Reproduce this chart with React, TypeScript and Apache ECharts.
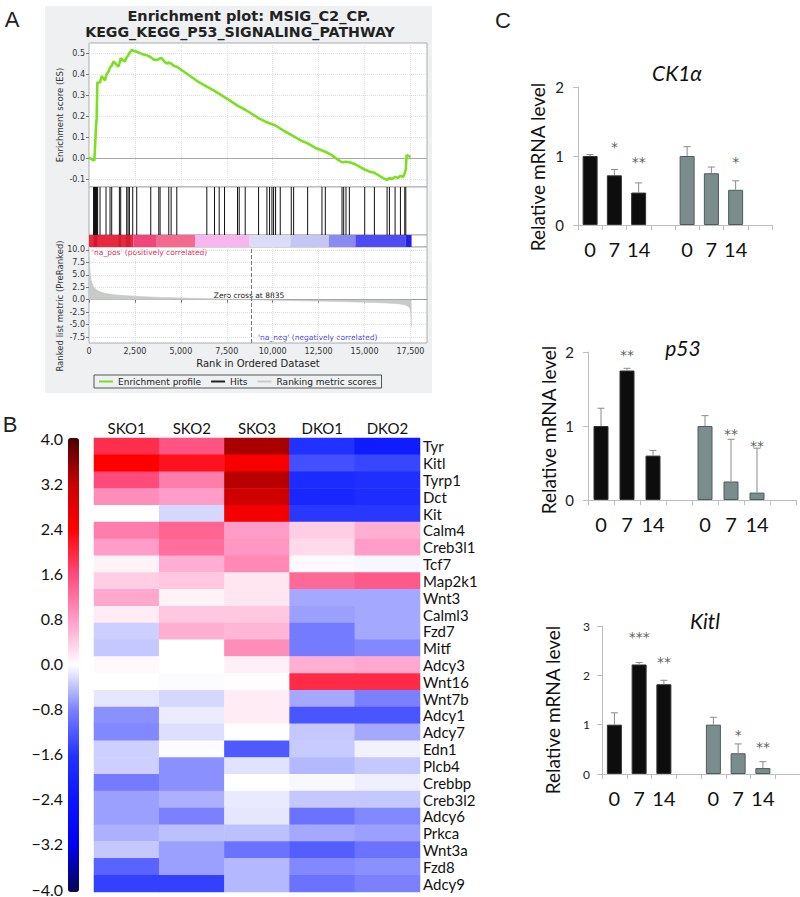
import { useEffect, useRef } from 'react';
import * as echarts from 'echarts';

// ---------- Panel A : GSEA enrichment plot ----------
const esCurve: [number, number][] = [
  [0, 0], [150, -0.005], [290, -0.013], [327, 0.05], [382, 0.15], [418, 0.19], [454, 0.36],
  [600, 0.36], [690, 0.39], [780, 0.38], [870, 0.37], [960, 0.4], [1050, 0.41], [1145, 0.43],
  [1236, 0.44], [1330, 0.46], [1450, 0.45], [1600, 0.435], [1654, 0.45], [1726, 0.475],
  [1850, 0.465], [1960, 0.46], [2053, 0.48], [2140, 0.49], [2199, 0.5], [2325, 0.515],
  [2450, 0.51], [2600, 0.506], [2900, 0.495], [3140, 0.49], [3362, 0.48], [3500, 0.47],
  [3690, 0.467], [3870, 0.475], [3960, 0.475], [4100, 0.46], [4230, 0.45], [4343, 0.455],
  [4470, 0.45], [4600, 0.44], [4780, 0.435], [5200, 0.41], [5600, 0.385], [6000, 0.36],
  [6414, 0.34], [6832, 0.32], [7378, 0.29], [8086, 0.25], [8504, 0.23], [9231, 0.19],
  [9685, 0.17], [10157, 0.155], [10600, 0.13], [11011, 0.11], [11500, 0.085], [11902, 0.07],
  [12400, 0.045], [12865, 0.03], [13200, 0.015], [13500, -0.005], [13774, -0.02],
  [13991, -0.018], [14173, -0.02], [14500, -0.03], [15009, -0.055], [15300, -0.065],
  [15536, -0.07], [15900, -0.09], [16226, -0.105], [16354, -0.095], [16500, -0.1],
  [16663, -0.09], [16800, -0.095], [16954, -0.085], [17100, -0.09], [17190, -0.07],
  [17245, -0.055], [17290, 0.014], [17400, 0.01], [17500, 0.005],
];

const hitRanks = [
  250, 273, 300, 327, 354, 382, 410, 436, 470, 600, 927, 1145, 1236, 1654, 1726, 2053, 2126,
  2199, 2380, 2598, 3362, 3798, 3870, 4343, 4470, 4779, 6414, 6832, 7087, 7378, 8086, 8177,
  8504, 9231, 9685, 9830, 9958, 10048, 10157, 10412, 11011, 11139, 11902, 12683, 12865, 13774,
  13864, 13991, 14173, 15009, 15536, 16226, 16354, 16663, 16954, 17190, 17245,
];

const metricCurve: [number, number][] = [
  [0, 8.5], [30, 7.5], [60, 5.5], [100, 4.2], [150, 3.4], [250, 2.6], [400, 2.0], [600, 1.6],
  [900, 1.25], [1300, 1.0], [2000, 0.8], [3000, 0.6], [4000, 0.45], [5000, 0.35], [6000, 0.25],
  [7000, 0.17], [8000, 0.08], [8835, 0], [9500, -0.05], [10500, -0.12], [11500, -0.2],
  [12500, -0.28], [13500, -0.36], [14500, -0.45], [15500, -0.55], [16200, -0.65],
  [16800, -0.8], [17100, -0.95], [17300, -1.15], [17450, -1.6], [17500, -2.2], [17530, -3.2],
  [17550, -4.5], [17560, -5.5],
];

const stripStarts = [0, 250, 1600, 2000, 2417, 3690, 5780, 8740, 10960, 13050, 14500, 17225];
const stripEnds = [2417, 450, 1750, 2250, 3690, 5780, 8740, 10960, 13050, 14500, 17225, 17560];
const stripColors = [
  '#e8283e', '#cc1a34', '#d41c36', '#d41c36', '#f0467c', '#f46a8e', '#f8b6ee', '#dcdcf8',
  '#c6c6f4', '#8a8af2', '#4c4cf2', '#2222e6',
];

const rankTicks = [0, 2500, 5000, 7500, 10000, 12500, 15000, 17500];
const esTicks = [-0.1, 0, 0.1, 0.2, 0.3, 0.4, 0.5];
const metricTicks = [-7.5, -5, -2.5, 0, 2.5, 5, 7.5, 10];

// ---------- Panel B : heatmap ----------
const samples = ['SKO1', 'SKO2', 'SKO3', 'DKO1', 'DKO2'];
const genes = [
  'Tyr', 'Kitl', 'Tyrp1', 'Dct', 'Kit', 'Calm4', 'Creb3l1', 'Tcf7', 'Map2k1', 'Wnt3', 'Calml3',
  'Fzd7', 'Mitf', 'Adcy3', 'Wnt16', 'Wnt7b', 'Adcy1', 'Adcy7', 'Edn1', 'Plcb4', 'Crebbp',
  'Creb3l2', 'Adcy6', 'Prkca', 'Wnt3a', 'Fzd8', 'Adcy9',
];
const heatValues = [
  [1.9, 1.5, 3.4, -1.65, -2.2],
  [2.4, 2.2, 2.5, -1.3, -1.4],
  [1.6, 1.1, 3.3, -1.8, -1.7],
  [0.95, 0.8, 3.1, -1.9, -1.75],
  [0.0, -0.25, 2.55, -1.55, -1.55],
  [1.1, 1.35, 0.8, 0.4, 0.65],
  [0.8, 1.25, 0.85, 0.3, 0.8],
  [0.1, 0.65, 1.0, 0.05, -0.05],
  [0.4, 0.45, 0.2, 1.3, 1.45],
  [0.7, 0.1, 0.2, -0.55, -0.55],
  [0.15, 0.45, 0.45, -0.6, -0.55],
  [-0.3, 0.65, 0.6, -0.85, -0.55],
  [-0.35, 0.0, 0.95, -0.85, -0.75],
  [0.05, 0.0, 0.12, 0.65, 0.7],
  [0.0, -0.02, 0.02, 1.95, 1.95],
  [-0.15, -0.25, 0.15, -0.55, -0.8],
  [-0.7, -0.12, 0.15, -1.25, -1.25],
  [-0.75, -0.2, 0.0, -0.35, -0.55],
  [-0.3, -0.02, -1.2, -0.33, -0.08],
  [-0.3, -0.7, -0.18, -0.45, -0.35],
  [-0.85, -0.7, 0.0, -0.04, -0.1],
  [-0.6, -0.5, -0.13, -0.35, -0.35],
  [-0.6, -0.8, -0.15, -0.95, -0.75],
  [-0.5, -0.4, -0.4, -0.55, -0.6],
  [-0.35, -0.6, -0.95, -1.15, -0.95],
  [-1.1, -0.6, -0.45, -0.75, -0.7],
  [-1.45, -1.45, -0.45, -0.95, -0.8],
];
const heatColors = [
  '#06064f', '#0000ee', '#0a14ff', '#2233ff', '#7a80ff', '#ffffff',
  '#ff9cc8', '#ff4a7a', '#ff0000', '#c80000', '#4a0000',
];

// ---------- Panel C : qPCR bars ----------
const timeCats = ['0', '7', '14', '', '0', '7', '14', ''];
const ck1Mean = [1.0, 0.72, 0.47, null, 1.0, 0.75, 0.51, null];
const ck1Err = [0.02, 0.085, 0.14, null, 0.135, 0.09, 0.13, null];
const ck1Stars = ['', '*', '**', '', '', '', '*', ''];
const ck1StarY = [null, 1.19, 0.97, null, null, null, 0.97, null];

const p53Mean = [1.0, 1.75, 0.6, null, 1.0, 0.25, 0.1, null];
const p53Err = [0.24, 0.03, 0.07, null, 0.14, 0.57, 0.6, null];
const p53Stars = ['', '**', '', '', '', '**', '**', ''];
const p53StarY = [null, 2.02, null, null, null, 0.95, 0.78, null];

const kitlMean = [1.0, 2.22, 1.82, null, 1.0, 0.42, 0.12, null];
const kitlErr = [0.24, 0.04, 0.08, null, 0.15, 0.19, 0.13, null];
const kitlStars = ['', '***', '**', '', '', '*', '**', ''];
const kitlStarY = [null, 2.85, 2.35, null, null, 0.87, 0.63, null];

const DV = '"DejaVu Sans"';
const LATO = 'Lato';

function fmtThousands(v: number) {
  return String(v).replace(/\B(?=(\d{3})+(?!\d))/g, ',');
}

function buildOption() {
  const grids: any[] = [
    { left: 89, top: 43, width: 338, height: 144, show: true, backgroundColor: '#fff', borderColor: '#aaa', borderWidth: 1 },
    { left: 89, top: 187, width: 338, height: 48, show: true, backgroundColor: '#fff', borderColor: '#aaa', borderWidth: 1 },
    { left: 89, top: 235, width: 338, height: 12, show: true, backgroundColor: '#fff', borderColor: '#aaa', borderWidth: 1 },
    { left: 89, top: 247, width: 338, height: 96, show: true, backgroundColor: '#fff', borderColor: '#aaa', borderWidth: 1 },
    { left: 94, top: 438, width: 326, height: 454 },
    { left: 68, top: 438, width: 11, height: 454 },
    { left: 578, top: 87, width: 194, height: 138 },
    { left: 588, top: 352, width: 208, height: 148 },
    { left: 602, top: 626, width: 202, height: 148 },
  ];

  const gseaSplit = { show: true, lineStyle: { color: '#dedede', type: 'dotted' as const, width: 1 } };
  const rankAxisBase = {
    type: 'value', min: 0, max: 18400,
    axisLine: { show: false }, axisTick: { show: false }, axisLabel: { show: false }, splitLine: { show: false },
  };

  const xAxes: any[] = [
    { ...rankAxisBase, gridIndex: 0, axisTick: { show: false, customValues: rankTicks }, axisLabel: { show: false, customValues: rankTicks }, splitLine: gseaSplit },
    { ...rankAxisBase, gridIndex: 1 },
    { ...rankAxisBase, gridIndex: 2 },
    {
      ...rankAxisBase, gridIndex: 3,
      axisLine: { show: true, lineStyle: { color: '#999' } },
      axisTick: { show: true, length: 3, lineStyle: { color: '#777' }, customValues: rankTicks },
      axisLabel: { show: true, customValues: rankTicks, formatter: (v: number) => fmtThousands(v), fontFamily: DV, fontSize: 8, color: '#333', margin: 4 },
      splitLine: gseaSplit,
      name: 'Rank in Ordered Dataset', nameLocation: 'middle', nameGap: 15,
      nameTextStyle: { fontFamily: DV, fontSize: 10, color: '#222' },
    },
    {
      type: 'category', gridIndex: 4, data: samples, position: 'top',
      axisLine: { show: false }, axisTick: { show: false },
      axisLabel: { fontFamily: LATO, fontSize: 15, color: '#111', margin: 3, interval: 0 },
    },
    { type: 'value', gridIndex: 5, show: false, min: 0, max: 1 },
  ];

  const yAxes: any[] = [
    {
      type: 'value', gridIndex: 0, min: -0.138, max: 0.548,
      axisLine: { show: false },
      axisTick: { show: true, length: 3, lineStyle: { color: '#777' }, customValues: esTicks },
      axisLabel: { customValues: esTicks, formatter: (v: number) => v.toFixed(1), fontFamily: DV, fontSize: 8, color: '#333', margin: 4 },
      splitLine: { ...gseaSplit },
    },
    { type: 'value', gridIndex: 1, min: 0, max: 1, show: false },
    { type: 'value', gridIndex: 2, min: 0, max: 1, show: false },
    {
      type: 'value', gridIndex: 3, min: -8.7, max: 10.6,
      axisLine: { show: false },
      axisTick: { show: true, length: 3, lineStyle: { color: '#777' }, customValues: metricTicks },
      axisLabel: { customValues: metricTicks, formatter: (v: number) => v.toFixed(1), fontFamily: DV, fontSize: 8, color: '#333', margin: 4 },
      splitLine: { ...gseaSplit },
    },
    {
      type: 'category', gridIndex: 4, data: genes, inverse: true, position: 'right',
      axisLine: { show: false }, axisTick: { show: false },
      axisLabel: { fontFamily: LATO, fontSize: 15, color: '#111', margin: 3, interval: 0 },
    },
    {
      type: 'value', gridIndex: 5, min: -4, max: 4, interval: 0.8, position: 'left',
      axisLine: { show: false }, axisTick: { show: false }, splitLine: { show: false },
      axisLabel: {
        fontFamily: LATO, fontSize: 16, color: '#111', margin: 5,
        formatter: (v: number) => (v < -0.001 ? '\u2212' + Math.abs(v).toFixed(1) : Math.abs(v).toFixed(1)),
      },
    },
  ];

  const series: any[] = [
    {
      type: 'line', name: 'Enrichment profile', xAxisIndex: 0, yAxisIndex: 0, data: esCurve,
      showSymbol: false, color: '#7ae020', lineStyle: { color: '#7ae020', width: 2.6 },
      markLine: { silent: true, symbol: 'none', label: { show: false }, lineStyle: { color: '#aaa', type: 'solid', width: 1 }, data: [{ yAxis: 0 }] },
      z: 5,
    },
    {
      type: 'custom', name: 'Hits', xAxisIndex: 1, yAxisIndex: 1, color: '#222',
      data: hitRanks.map((r) => [r]),
      renderItem: (_p: any, api: any) => {
        const a = api.coord([api.value(0), 0]);
        const b = api.coord([api.value(0), 1]);
        return { type: 'line', shape: { x1: a[0], y1: a[1], x2: b[0], y2: b[1] }, style: { stroke: '#111', lineWidth: 1 } };
      },
    },
    {
      type: 'custom', xAxisIndex: 2, yAxisIndex: 2,
      data: stripStarts.map((s, i) => [s, stripEnds[i], i]),
      renderItem: (_p: any, api: any) => {
        const a = api.coord([api.value(0), 1]);
        const b = api.coord([api.value(1), 0]);
        return { type: 'rect', shape: { x: a[0], y: a[1], width: b[0] - a[0], height: b[1] - a[1] }, style: { fill: stripColors[api.value(2)] } };
      },
    },
    {
      type: 'line', name: 'Ranking metric scores', xAxisIndex: 3, yAxisIndex: 3, data: metricCurve,
      showSymbol: false, color: '#c8ccc8', lineStyle: { color: '#c2c6c2', width: 0.6 },
      areaStyle: { color: '#c8ccc8', opacity: 1 },
      markLine: { silent: true, symbol: 'none', label: { show: false }, lineStyle: { color: '#777', type: 'dashed', width: 1 }, data: [{ xAxis: 8835 }] },
    },
    {
      type: 'heatmap', xAxisIndex: 4, yAxisIndex: 4,
      data: heatValues.flatMap((row, r) => row.map((v, c) => [c, r, v])),
      emphasis: { disabled: true },
    },
  ];

  const blackStyle = { color: '#0d0d0d', borderColor: '#333', borderWidth: 1 };
  const grayStyle = { color: '#7a8c8b', borderColor: '#4f5b5a', borderWidth: 1 };

  const barCharts = [
    { mean: ck1Mean, err: ck1Err, stars: ck1Stars, starY: ck1StarY, max: 2, labelSize: 15, labelMargin: 14 },
    { mean: p53Mean, err: p53Err, stars: p53Stars, starY: p53StarY, max: 2, labelSize: 15, labelMargin: 14 },
    { mean: kitlMean, err: kitlErr, stars: kitlStars, starY: kitlStarY, max: 3, labelSize: 12, labelMargin: 12 },
  ];

  barCharts.forEach((bc, k) => {
    const g = 6 + k;
    const axisIdx = xAxes.length;
    xAxes.push({
      type: 'category', gridIndex: g, data: timeCats,
      axisLine: { show: true, lineStyle: { color: '#bdbdbd' } },
      axisTick: { show: true, length: 5, interval: 0, lineStyle: { color: '#bdbdbd' } },
      axisLabel: { interval: 0, fontFamily: LATO, fontSize: 20, color: '#111', margin: 14 },
    });
    yAxes.push({
      type: 'value', gridIndex: g, min: 0, max: bc.max, interval: 1,
      axisLine: { show: true, lineStyle: { color: '#bdbdbd' } },
      axisTick: { show: true, length: 5, lineStyle: { color: '#bdbdbd' } },
      axisLabel: { fontFamily: LATO, fontSize: bc.labelSize, color: '#222', margin: bc.labelMargin },
      splitLine: { show: false },
    });
    series.push({
      type: 'bar', xAxisIndex: axisIdx, yAxisIndex: axisIdx, barWidth: 15,
      data: bc.mean.map((v, i) => (v == null ? '-' : { value: v, itemStyle: i < 4 ? blackStyle : grayStyle })),
    });
    series.push({
      type: 'custom', xAxisIndex: axisIdx, yAxisIndex: axisIdx, z: 3,
      data: bc.mean.map((v, i) => (v == null ? null : [i, v, bc.err[i] as number])).filter(Boolean),
      renderItem: (_p: any, api: any) => {
        const a = api.coord([api.value(0), api.value(1)]);
        const b = api.coord([api.value(0), api.value(1) + api.value(2)]);
        return {
          type: 'group',
          children: [
            { type: 'line', shape: { x1: a[0], y1: a[1], x2: b[0], y2: b[1] }, style: { stroke: '#8a8a8a', lineWidth: 1 } },
            { type: 'line', shape: { x1: b[0] - 3.5, y1: b[1], x2: b[0] + 3.5, y2: b[1] }, style: { stroke: '#8a8a8a', lineWidth: 1 } },
          ],
        };
      },
    });
    series.push({
      type: 'scatter', xAxisIndex: axisIdx, yAxisIndex: axisIdx, clip: false, symbolSize: 1,
      itemStyle: { color: 'rgba(0,0,0,0)' },
      data: bc.starY.map((y, i) => (y == null ? null : [i, y])).filter(Boolean),
      label: {
        show: true, position: 'inside', offset: [0, 4],
        formatter: (p: any) => bc.stars[p.value[0]],
        fontFamily: DV, fontSize: 14, color: '#333',
      },
      emphasis: { disabled: true },
    });
  });

  const txt = (x: number, y: number, text: string, font: string, fill = '#222', align = 'center', rotation = 0) => ({
    type: 'text', x, y, rotation, silent: true,
    style: { text, font, fill, align, verticalAlign: 'middle', textAlign: align, textVerticalAlign: 'middle' },
  });

  const graphic: any[] = [
    { type: 'rect', z: -100, silent: true, shape: { x: 45, y: 6, width: 387, height: 387 }, style: { fill: '#eef0f1' } },
    txt(12, 19, 'A', '22px "Liberation Sans"'),
    txt(10, 424, 'B', '22px "Liberation Sans"'),
    txt(503, 20, 'C', '22px "Liberation Sans"'),
    txt(249, 16, 'Enrichment plot: MSIG_C2_CP.', `bold 14.5px ${DV}`),
    txt(240, 32, 'KEGG_KEGG_P53_SIGNALING_PATHWAY', `bold 14.2px ${DV}`),
    txt(60, 115, 'Enrichment score (ES)', `8.5px ${DV}`, '#333', 'center', Math.PI / 2),
    txt(60, 306, 'Ranked list metric (PreRanked)', `8.5px ${DV}`, '#333', 'center', Math.PI / 2),
    txt(92, 252, "'na_pos' (positively correlated)", `7.5px ${DV}`, '#e0305a', 'left'),
    txt(249, 295, 'Zero cross at 8835', `7.5px ${DV}`, '#222'),
    txt(258, 337, "'na_neg' (negatively correlated)", `7.5px ${DV}`, '#4444dd', 'left'),
    txt(677, 72, 'CK1\u03b1', `italic 21px ${LATO}`, '#111'),
    txt(683, 347, 'p53', `italic 21px ${LATO}`, '#111'),
    txt(705, 620, 'Kitl', `italic 21px ${LATO}`, '#111'),
    txt(537, 167, 'Relative mRNA level', `19px ${LATO}`, '#111', 'center', Math.PI / 2),
    txt(548, 430, 'Relative mRNA level', `19px ${LATO}`, '#111', 'center', Math.PI / 2),
    txt(552, 710, 'Relative mRNA level', `19px ${LATO}`, '#111', 'center', Math.PI / 2),
  ];

  return {
    animation: false,
    textStyle: { fontFamily: LATO },
    grid: grids,
    xAxis: xAxes,
    yAxis: yAxes,
    series,
    graphic,
    legend: {
      data: ['Enrichment profile', 'Hits', 'Ranking metric scores'],
      left: 94, top: 375, orient: 'horizontal', icon: 'rect', itemWidth: 14, itemHeight: 2, itemGap: 10,
      textStyle: { fontFamily: DV, fontSize: 9, color: '#222' },
      borderColor: '#555', borderWidth: 1, padding: [2, 5], selectedMode: false,
    },
    visualMap: {
      type: 'continuous', min: -4, max: 4, seriesIndex: 4, dimension: 2,
      inRange: { color: heatColors },
      left: 68, top: 438, itemWidth: 11, itemHeight: 454, padding: 0,
      calculable: false, hoverLink: false, show: true,
    },
  };
}

export default function App() {
  const ref = useRef<HTMLDivElement>(null);
  useEffect(() => {
    if (!ref.current) return;
    const chart = echarts.init(ref.current, null, { renderer: 'svg', width: 800, height: 897 });
    chart.setOption(buildOption() as any);
    return () => chart.dispose();
  }, []);
  return (
    <div
      ref={ref}
      style={{ position: 'absolute', left: 0, top: 0, width: 800, height: 897, background: '#fff' }}
    />
  );
}
